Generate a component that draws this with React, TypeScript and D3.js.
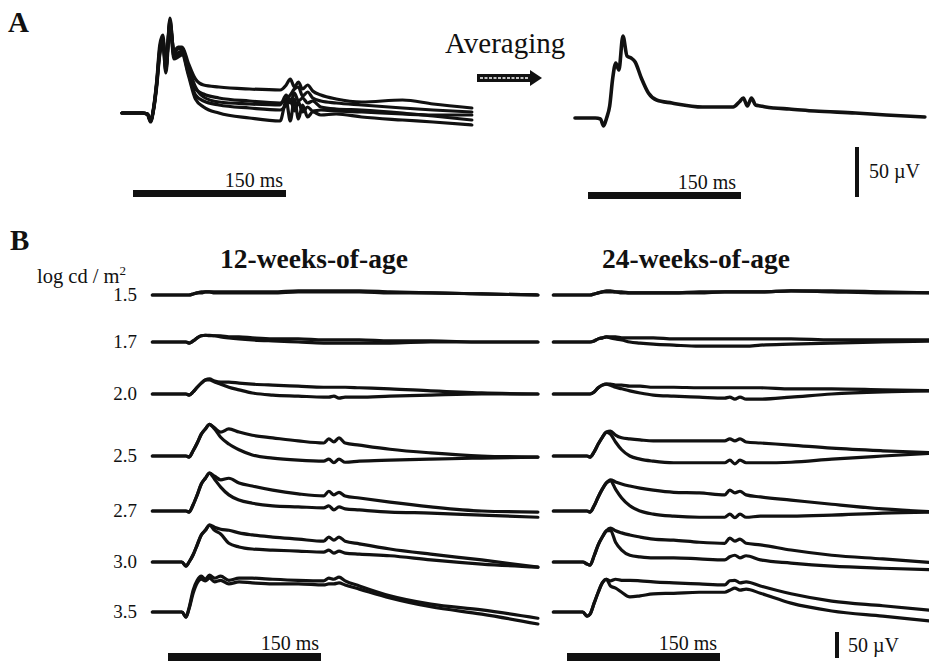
import React from 'react';
import * as d3 from 'd3';

const FONT = '"Liberation Serif", "Times New Roman", serif';

// ---- Panel A: ms after flash, µV ----
const tA = [-25, -5, 0, 3, 6, 9, 12, 15, 18, 22, 26, 30, 34, 40, 47, 55, 70, 100, 130, 136, 140, 144, 148, 152, 157, 162, 170, 185, 210, 250, 280, 318];
const run1 = [0, 0, -1, -8, 6, 32, 68, 78, 50, 88, 62, 66, 66, 50, 34, 28, 26, 24, 23, 28, 34, 26, 31, 24, 28, 22, 18, 14, 11, 13, 9, 5];
const run2 = [0, 0, -1, -7, 4, 28, 60, 72, 42, 95, 58, 60, 62, 44, 24, 19, 15, 12, 10, 14, 18, 24, 26, 17, 21, 15, 12, 10, 8, 5, 3, 1];
const run3 = [0, 0, -1, -8, 5, 30, 64, 74, 46, 90, 56, 58, 60, 40, 18, 12, 8, 5, 3, 8, 14, 2, 11, 1, 6, 2, 3, 2, 1, -1, -2, -2];
const run4 = [0, 0, -2, -9, 3, 26, 58, 70, 40, 86, 54, 56, 58, 38, 14, 6, 0, -5, -8, 12, -8, 14, -6, 8, -4, 1, -2, -1, -4, -7, -9, -12];
const run5 = [0, 0, -1, -8, 4, 29, 62, 75, 44, 93, 60, 64, 64, 46, 26, 16, 11, 9, 8, 18, 10, 20, 12, 15, 10, 12, 6, 4, 3, 0, -3, -7];
const averaged = [0, 0, -1, -8, 0, 12, 40, 55, 48, 82, 62, 60, 56, 40, 25, 18, 15, 11, 11, 16, 20, 12, 20, 13, 12, 11, 10, 9, 7, 5, 3, 1];

// ---- Panel B: ms after flash, µV, two eyes per intensity ----
const tB = [-33, -4, 0, 3, 7, 11, 15, 19, 23, 28, 34, 42, 52, 65, 85, 110, 135, 140, 145, 150, 156, 170, 200, 240, 290, 345];
const intensities = ['1.5', '1.7', '2.0', '2.5', '2.7', '3.0', '3.5'];

const w12_15 = [[0, 0, 0, 0, 2, 4, 6, 6, 6, 6, 6, 6, 6, 6, 6, 8, 8, 8, 8, 8, 8, 8, 6, 4, 2, 0], [0, 0, 0, 0, 2, 4, 4, 6, 6, 4, 4, 4, 4, 4, 4, 6, 6, 6, 6, 6, 6, 6, 4, 4, 2, 0]];
const w12_17 = [[0, 0, 0, -2, 2, 8, 12, 13, 13, 12, 12, 10, 10, 8, 6, 6, 4, 4, 4, 4, 4, 4, 2, 2, 0, 0], [0, 0, 0, -2, 2, 8, 12, 13, 12, 12, 10, 8, 6, 4, 2, 0, -2, -2, -2, -2, -2, -2, -2, 0, 0, 0]];
const w12_20 = [[0, 0, 0, -2, 4, 13, 21, 27, 29, 25, 23, 23, 21, 19, 17, 15, 13, 13, 13, 13, 13, 12, 10, 6, 2, 0], [0, 0, 0, -2, 4, 13, 21, 27, 27, 23, 19, 13, 8, 2, -2, -4, -6, -6, -4, -8, -6, -6, -4, -2, 0, 0]];
const w12_25 = [[0, 0, 0, -2, 10, 25, 42, 52, 61, 54, 46, 52, 46, 40, 35, 29, 25, 33, 27, 35, 25, 21, 13, 6, 0, -2], [0, 0, 0, -2, 10, 25, 42, 52, 61, 52, 36, 23, 12, 2, -4, -8, -10, -6, -13, -6, -12, -10, -8, -6, -4, -2]];
const w12_27 = [[0, 0, 0, -2, 12, 31, 52, 63, 73, 67, 60, 63, 54, 48, 40, 33, 29, 38, 31, 36, 29, 25, 17, 8, 0, -2], [0, 0, 0, -2, 12, 31, 52, 63, 73, 61, 46, 31, 21, 15, 10, 8, 6, 10, 2, 8, 4, 2, -2, -4, -8, -12]];
const w12_30 = [[0, 0, -8, 0, 14, 33, 52, 61, 71, 67, 63, 61, 56, 52, 48, 44, 40, 48, 42, 48, 40, 35, 25, 15, 4, -10], [0, 0, -8, 0, 14, 33, 52, 61, 71, 61, 54, 36, 29, 25, 23, 21, 19, 23, 17, 21, 17, 15, 12, 4, -4, -10]];
const w12_35 = [[0, 0, -10, 8, 42, 61, 69, 63, 71, 65, 69, 61, 65, 65, 63, 61, 60, 65, 63, 67, 60, 50, 31, 15, 4, -12], [0, 0, -10, 6, 36, 56, 63, 60, 65, 58, 61, 54, 58, 56, 54, 54, 52, 54, 54, 56, 52, 44, 27, 10, -4, -23]];

const w24_15 = [[0, 0, 0, 0, 2, 4, 6, 8, 8, 6, 6, 4, 4, 4, 4, 4, 6, 6, 6, 6, 6, 6, 8, 8, 6, 4], [0, 0, 0, 0, 2, 4, 6, 6, 6, 6, 4, 4, 4, 4, 4, 6, 6, 6, 6, 6, 6, 6, 8, 6, 4, 4]];
const w24_17 = [[0, 0, 0, 0, 2, 6, 8, 10, 10, 10, 8, 8, 8, 8, 6, 6, 6, 6, 6, 6, 6, 6, 6, 4, 4, 4], [0, 0, 0, 0, 2, 6, 8, 10, 8, 6, 4, 0, -2, -4, -6, -8, -8, -8, -8, -8, -8, -6, -4, -2, 0, 2]];
const w24_20 = [[0, 0, 0, 0, 4, 12, 17, 19, 19, 17, 17, 15, 15, 13, 13, 12, 12, 12, 12, 12, 12, 12, 10, 10, 8, 6], [0, 0, 0, 0, 4, 12, 17, 19, 17, 13, 10, 6, 2, -2, -4, -6, -8, -6, -10, -6, -10, -10, -6, 0, 4, 6]];
const w24_25 = [[0, 0, 0, -2, 8, 23, 36, 46, 48, 40, 35, 33, 31, 29, 29, 29, 29, 33, 29, 33, 27, 25, 21, 15, 10, 6], [0, 0, 0, -2, 8, 23, 36, 46, 42, 27, 12, 0, -6, -10, -13, -13, -13, -8, -15, -8, -13, -13, -12, -6, 0, 6]];
const w24_27 = [[0, 0, 0, -2, 10, 27, 42, 54, 60, 56, 52, 48, 44, 40, 36, 35, 31, 40, 35, 38, 31, 27, 21, 13, 4, -2], [0, 0, 0, -2, 10, 27, 42, 54, 58, 42, 25, 10, 0, -6, -10, -12, -12, -6, -13, -6, -12, -10, -10, -8, -4, -2]];
const w24_30 = [[0, 0, -4, -6, 12, 33, 48, 60, 65, 60, 56, 52, 48, 44, 42, 38, 36, 46, 40, 44, 36, 33, 23, 13, 6, -2], [0, 0, -4, -6, 12, 33, 48, 60, 61, 38, 23, 13, 10, 8, 8, 6, 4, 10, 13, 8, 12, 4, -2, -8, -12, -15]];
const w24_35 = [[0, 0, -8, -4, 17, 38, 56, 63, 60, 63, 61, 61, 60, 58, 56, 54, 52, 60, 61, 56, 58, 50, 35, 21, 12, 2], [0, 0, -8, -4, 17, 38, 56, 63, 50, 46, 38, 29, 31, 35, 36, 38, 38, 42, 46, 42, 44, 36, 17, 2, -8, -19]];

const weeks12 = [w12_15, w12_17, w12_20, w12_25, w12_27, w12_30, w12_35];
const weeks24 = [w24_15, w24_17, w24_20, w24_25, w24_27, w24_30, w24_35];

const rowBase = [295, 342, 394, 456, 511, 562, 612];

const INK = '#111';

function tracePath(t: number[], vals: number[], x: d3.ScaleLinear<number, number>, y: d3.ScaleLinear<number, number>) {
  const line = d3.line<number>()
    .x((_, i) => x(t[i]))
    .y(v => y(v))
    .curve(d3.curveMonotoneX);
  return line(vals) || '';
}

export default function App() {
  const W = 929, H = 661;

  // panel A scales (50 µV = 50 px, 150 ms = 153 px)
  const xA1 = d3.scaleLinear().domain([0, 150]).range([147.5, 300.5]);
  const xA2 = d3.scaleLinear().domain([0, 150]).range([600.5, 753.5]);
  const yA1 = d3.scaleLinear().domain([0, 50]).range([113, 63]);
  const yA2 = d3.scaleLinear().domain([0, 50]).range([118, 68]);

  // panel B scales (50 µV = 26 px)
  const xB1 = d3.scaleLinear().domain([0, 150]).range([186, 339]);
  const xB2 = d3.scaleLinear().domain([0, 150]).range([587, 740]);
  const yRow = (r: number) => d3.scaleLinear().domain([0, 50]).range([rowBase[r], rowBase[r] - 26]);

  const msA = xA1(150) - xA1(0);
  const msB = xB1(150) - xB1(0);
  const uvA = yA1(0) - yA1(50);
  const uvB = yRow(0)(0) - yRow(0)(50);

  const stroke = { fill: 'none', stroke: INK, strokeWidth: 3.2, strokeLinejoin: 'round' as const, strokeLinecap: 'round' as const };

  return (
    <svg width={W} height={H} style={{ position: 'absolute', left: 0, top: 0, background: '#fff' }} fontFamily={FONT}>
      <rect width={W} height={H} fill="#fff" />

      {/* ---------- A ---------- */}
      <text x={8} y={32} fontSize={29} fontWeight="bold" fill={INK}>A</text>
      {[run1, run2, run3, run4, run5].map((r, i) => (
        <path key={'a' + i} d={tracePath(tA, r, xA1, yA1)} {...stroke} />
      ))}
      <text x={445} y={53} fontSize={29} fill={INK}>Averaging</text>
      <g>
        <rect x={477} y={74} width={54} height={8} fill={INK} />
        <line x1={480} x2={529} y1={78} y2={78} stroke="#fff" strokeWidth={1.6} strokeDasharray="3 1.5" />
        <polygon points="530,70 542,78 530,86" fill={INK} />
      </g>
      <path d={tracePath(tA, averaged, xA2, yA2)} {...stroke} strokeWidth={3.6} />

      <rect x={133} y={190} width={msA} height={7} fill={INK} />
      <text x={283} y={187} fontSize={20} textAnchor="end" fill={INK}>150 ms</text>
      <rect x={588} y={192} width={msA} height={7} fill={INK} />
      <text x={736} y={189} fontSize={20} textAnchor="end" fill={INK}>150 ms</text>
      <rect x={855} y={197 - uvA} width={4} height={uvA} fill={INK} />
      <text x={869} y={178} fontSize={20} fill={INK}>50 µV</text>

      {/* ---------- B ---------- */}
      <text x={10} y={250} fontSize={29} fontWeight="bold" fill={INK}>B</text>
      <text x={220} y={268} fontSize={27.5} fontWeight="bold" fill={INK}>12-weeks-of-age</text>
      <text x={602} y={268} fontSize={27.5} fontWeight="bold" fill={INK}>24-weeks-of-age</text>
      <text x={37} y={283} fontSize={20.5} fill={INK}>
        log cd / m<tspan fontSize={13} dy={-8}>2</tspan>
      </text>
      {intensities.map((lab, r) => (
        <text key={lab} x={137} y={rowBase[r] + 6} fontSize={19} textAnchor="end" fill={INK}>{lab}</text>
      ))}
      {weeks12.map((pair, r) => pair.map((v, k) => (
        <path key={`l${r}${k}`} d={tracePath(tB, v, xB1, yRow(r))} {...stroke} />
      )))}
      {weeks24.map((pair, r) => pair.map((v, k) => (
        <path key={`r${r}${k}`} d={tracePath(tB, v, xB2, yRow(r))} {...stroke} />
      )))}

      <rect x={168} y={653} width={msB} height={9} fill={INK} />
      <text x={319} y={650} fontSize={20} textAnchor="end" fill={INK}>150 ms</text>
      <rect x={567} y={653} width={msB} height={9} fill={INK} />
      <text x={717} y={650} fontSize={20} textAnchor="end" fill={INK}>150 ms</text>
      <rect x={835} y={658 - uvB} width={4} height={uvB} fill={INK} />
      <text x={848} y={652} fontSize={20} fill={INK}>50 µV</text>
    </svg>
  );
}
